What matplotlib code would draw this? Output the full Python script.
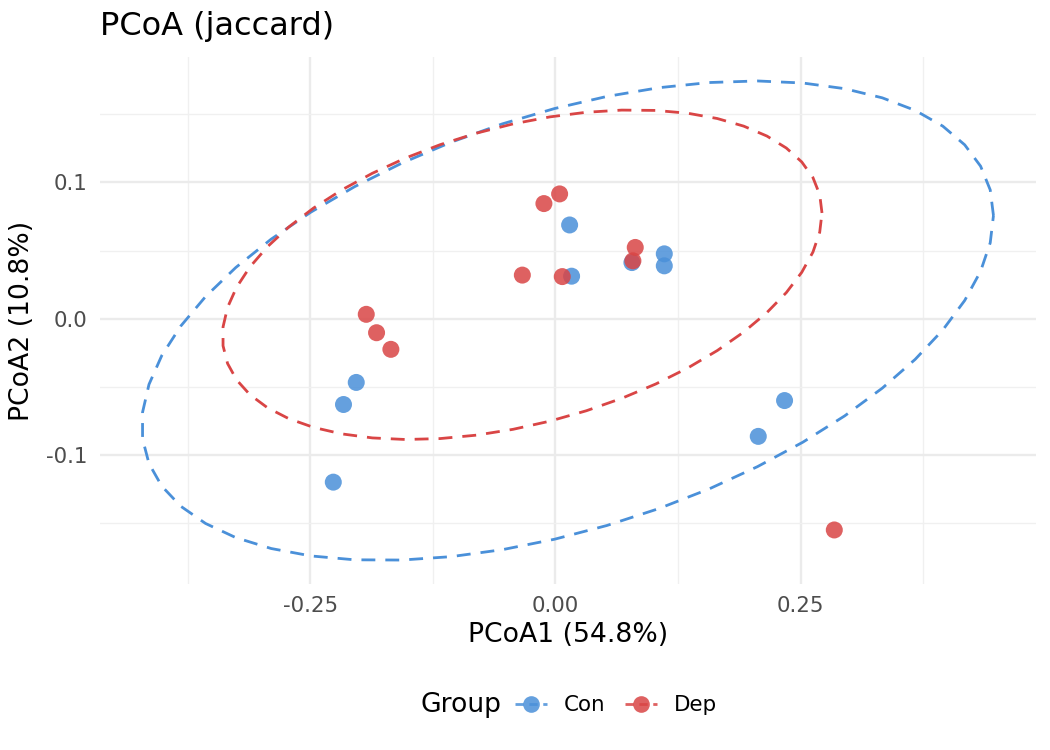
import numpy as np
import matplotlib
matplotlib.use('Agg')
import matplotlib.pyplot as plt
from matplotlib.lines import Line2D

# PCoA coordinates
con_x = [0.0145, 0.0165, 0.078, 0.111, 0.111, -0.203, -0.216, -0.2264, 0.2336, 0.2068]
con_y = [0.0688, 0.0312, 0.0412, 0.0476, 0.0388, -0.0468, -0.0630, -0.120, -0.0601, -0.0864]
dep_x = [0.0043, -0.0117, -0.0337, 0.0070, 0.0814, 0.0790, -0.1928, -0.1823, -0.1677, 0.2843]
dep_y = [0.0916, 0.0845, 0.0320, 0.0309, 0.0523, 0.0425, 0.0032, -0.0103, -0.0225, -0.1551]

groups = ['Con', 'Dep']
colors = {'Con': '#4A90D9', 'Dep': '#D94545'}
x_ticks = [-0.25, 0.0, 0.25]
x_ticklabels = ['-0.25', '0.00', '0.25']
y_ticks = [-0.1, 0.0, 0.1]
y_ticklabels = ['-0.1', '0.0', '0.1']


def cov_trob(X, nu=5, maxit=25, tol=0.01):
    # same as MASS::cov.trob, used by stat_ellipse
    n, p = X.shape
    loc = X.mean(axis=0)
    w = np.ones(n)
    for _ in range(maxit):
        w0 = w
        Xc = X - loc
        _, d, vt = np.linalg.svd(np.sqrt(w / w.sum())[:, None] * Xc, full_matrices=False)
        wX = Xc @ vt.T / d
        Q = (wX ** 2).sum(axis=1)
        w = (nu + p) / (nu + Q)
        loc = (w[:, None] * X).sum(axis=0) / w.sum()
        if np.all(np.abs(w - w0) < tol):
            break
    sX = np.sqrt(w)[:, None] * Xc
    return loc, sX.T @ sX / n


def ellipse(x, y, level=0.95, segments=51):
    X = np.column_stack([x, y])
    center, shape = cov_trob(X)
    dfd = len(x) - 1
    fq = dfd / 2 * ((1 - level) ** (-2 / dfd) - 1)  # qf(level, 2, dfd)
    radius = np.sqrt(2 * fq)
    ang = np.arange(segments + 1) * 2 * np.pi / segments
    circ = np.column_stack([np.cos(ang), np.sin(ang)])
    L = np.linalg.cholesky(shape)
    return center + radius * circ @ L.T


data = {'Con': (con_x, con_y), 'Dep': (dep_x, dep_y)}
ells = {g: ellipse(*data[g]) for g in groups}

fig = plt.figure(figsize=(10.5, 7.5), dpi=100)
ax = fig.add_axes([100 / 1050, 1 - 584 / 750, 936 / 1050, 527 / 750])

for g in groups:
    e = ells[g]
    ax.plot(e[:, 0], e[:, 1], color=colors[g], lw=2.0, dashes=(5, 3.6), zorder=3)
for g in groups:
    ax.scatter(data[g][0], data[g][1], s=150, color=colors[g], alpha=0.85,
               edgecolors='none', zorder=4)

# limits like ggplot: data + ellipses, 5% expansion
allx = np.concatenate([con_x, dep_x] + [ells[g][:, 0] for g in groups])
ally = np.concatenate([con_y, dep_y] + [ells[g][:, 1] for g in groups])
dx = allx.max() - allx.min()
dy = ally.max() - ally.min()
ax.set_xlim(allx.min() - 0.05 * dx, allx.max() + 0.05 * dx)
ax.set_ylim(ally.min() - 0.05 * dy, ally.max() + 0.05 * dy)

ax.set_xticks(x_ticks)
ax.set_xticklabels(x_ticklabels)
ax.set_yticks(y_ticks)
ax.set_yticklabels(y_ticklabels)
ax.set_xticks([-0.375, -0.125, 0.125, 0.375], minor=True)
ax.set_yticks([-0.15, -0.05, 0.05, 0.15], minor=True)
ax.grid(which='major', color='#EBEBEB', linewidth=1.7)
ax.grid(which='minor', color='#F0F0F0', linewidth=1.0)
ax.set_axisbelow(True)
ax.tick_params(which='both', length=0, labelsize=15.4, labelcolor='#4D4D4D', pad=9)
for s in ax.spines.values():
    s.set_visible(False)

ax.set_xlabel('PCoA1 (54.8%)', fontsize=19.2, labelpad=4)
ax.set_ylabel('PCoA2 (10.8%)', fontsize=19.2, labelpad=8)
fig.text(100 / 1050, 1 - 35 / 750, 'PCoA (jaccard)', fontsize=23, va='baseline', ha='left')

# legend at bottom
fig.text(421 / 1050, 1 - 705 / 750, 'Group', fontsize=19.2, va='center', ha='left')
handles = [Line2D([0], [0], color=colors[g], lw=2.0, dashes=(3, 2), marker='o',
                  markersize=12, markeredgewidth=0, alpha=0.85) for g in groups]
fig.legend(handles, groups, loc='center left', bbox_to_anchor=(515 / 1050, 1 - 705 / 750),
           ncol=2, frameon=False, fontsize=15.4, handlelength=1.5, handletextpad=0.8,
           columnspacing=0.9, borderpad=0, borderaxespad=0)

fig.savefig('out.png', dpi=100)
